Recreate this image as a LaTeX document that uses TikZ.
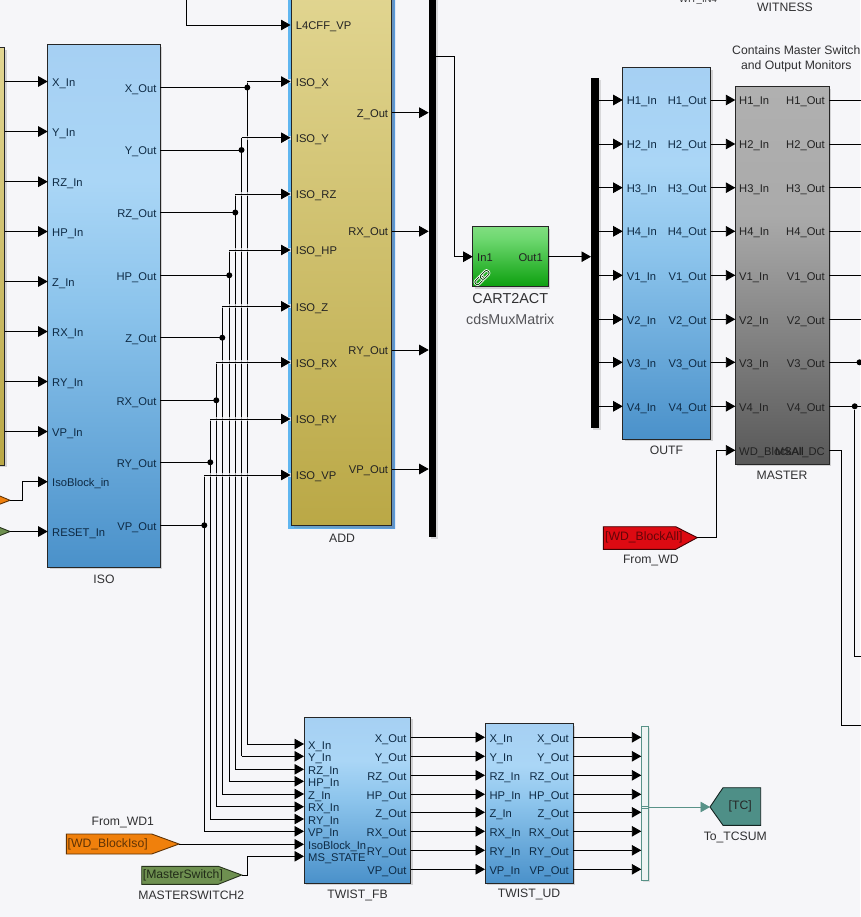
\documentclass[tikz,border=0pt]{standalone}
\usepackage{fontspec}
\setmainfont{Liberation Sans}
\usetikzlibrary{arrows.meta,shadows}

\definecolor{sim_bg}{RGB}{246,246,249}
\definecolor{sim_navy}{RGB}{14,42,68}
\definecolor{sim_text}{RGB}{34,34,34}
\definecolor{sim_name}{RGB}{48,48,50}
\definecolor{sim_grau}{RGB}{84,84,88}
\definecolor{sim_teal}{RGB}{88,146,136}
\definecolor{sim_tag}{RGB}{78,143,135}
\definecolor{sim_orange}{RGB}{240,128,12}
\definecolor{sim_rot}{RGB}{221,10,18}
\definecolor{sim_gruen}{RGB}{110,144,80}
\definecolor{sim_sel}{RGB}{96,182,240}
\definecolor{sim_sel2}{RGB}{88,154,220}

\pgfdeclareverticalshading{simblue}{100bp}{
  color(0bp)=(rgb,255:red,74;green,145;blue,202);
  color(25bp)=(rgb,255:red,74;green,145;blue,202);
  color(50bp)=(rgb,255:red,140;green,196;blue,236);
  color(62bp)=(rgb,255:red,170;green,214;blue,246);
  color(75bp)=(rgb,255:red,166;green,208;blue,243);
  color(100bp)=(rgb,255:red,166;green,208;blue,243)}
\pgfdeclareverticalshading{simyellow}{100bp}{
  color(0bp)=(rgb,255:red,186;green,168;blue,70);
  color(25bp)=(rgb,255:red,186;green,168;blue,70);
  color(75bp)=(rgb,255:red,226;green,214;blue,146);
  color(100bp)=(rgb,255:red,226;green,214;blue,146)}
\pgfdeclareverticalshading{simgrey}{100bp}{
  color(0bp)=(rgb,255:red,88;green,88;blue,88);
  color(25bp)=(rgb,255:red,88;green,88;blue,88);
  color(58bp)=(rgb,255:red,170;green,170;blue,170);
  color(75bp)=(rgb,255:red,176;green,176;blue,176);
  color(100bp)=(rgb,255:red,176;green,176;blue,176)}
\pgfdeclareverticalshading{simgreen}{100bp}{
  color(0bp)=(rgb,255:red,12;green,160;blue,14);
  color(25bp)=(rgb,255:red,12;green,160;blue,14);
  color(65bp)=(rgb,255:red,110;green,216;blue,112);
  color(75bp)=(rgb,255:red,128;green,222;blue,128);
  color(100bp)=(rgb,255:red,128;green,222;blue,128)}

\begin{document}
\begin{tikzpicture}[
      x=1pt,
      y=-1pt,
      block/.style={
        draw=black!85,
        line width=1pt,
        anchor=north west,
        inner sep=0pt,
        outer sep=0pt,
        drop shadow={shadow xshift=2pt,shadow yshift=-2pt,opacity=0.3}
      },
      bluebox/.style={block,shading=simblue},
      yellowbox/.style={block,shading=simyellow},
      greybox/.style={block,shading=simgrey},
      greenbox/.style={block,shading=simgreen},
      bus/.style={
        fill=black,
        anchor=north west,
        inner sep=0pt,
        drop shadow={shadow xshift=2pt,shadow yshift=-2pt,opacity=0.25}
      },
      wire/.style={
        line width=0.9pt,
        -{Triangle[length=9.5pt,width=10.5pt]}
      },
      plain/.style={line width=0.9pt},
      hop/.style={draw=sim_bg,opacity=0.7,line width=4pt},
      dot/.style={
        circle,
        fill=black,
        inner sep=0pt,
        minimum size=6pt
      },
      portin/.style={
        anchor=base west,
        inner sep=0pt,
        text=sim_text,
        font=\fontsize{11.2}{13}\selectfont
      },
      portout/.style={
        portin,
        anchor=base east
      },
      bluetxt/.style={text=sim_navy},
      blockname/.style={
        inner sep=0pt,
        text=sim_name,
        font=\fontsize{12.2}{14}\selectfont
      },
      tagtxt/.style={
        anchor=west,
        inner sep=0pt,
        font=\fontsize{12.2}{14}\selectfont
      },
      chain/.style={
        draw=green!25!black,
        line width=0.8pt,
        rounded corners=2pt,
        minimum width=10pt,
        minimum height=5pt,
        inner sep=0pt,
        rotate=45,
        preaction={draw=white,line width=2.4pt}
      }
    ]

      \useasboundingbox (0,0) rectangle (860,917);
      \fill [sim_bg] (0,0) rectangle (860,917);

      % Bloecke
      \node [yellowbox,minimum width=60pt,minimum height=417pt] (left) at (-55.5,48) {};
      \node [bluebox,minimum width=112.6pt,minimum height=522.3pt] (iso) at (47.7,45) {};
      \node [anchor=north west,inner sep=0pt,minimum width=107pt,minimum height=548.5pt,
        left color=sim_sel,right color=sim_sel2] (addsel) at (288,-20) {};
      \node [yellowbox,minimum width=100pt,minimum height=545.7pt,drop shadow={opacity=0}] (add) at (291.7,-20) {};
      \node [bus,minimum width=7.4pt,minimum height=557pt] (bus1) at (428.7,-20) {};
      \node [greenbox,minimum width=75.6pt,minimum height=60pt] (cart) at (472.7,226.7) {};
      \node [bus,minimum width=7.7pt,minimum height=349.7pt] (bus2) at (591,78.3) {};
      \node [bluebox,minimum width=88pt,minimum height=371.3pt] (outf) at (622.7,67.7) {};
      \node [greybox,minimum width=94pt,minimum height=377.6pt] (master) at (735.3,86.7) {};
      \node [bluebox,minimum width=106.7pt,minimum height=165.7pt] (tfb) at (304,717.3) {};
      \node [bluebox,minimum width=88.3pt,minimum height=159.3pt] (tud) at (485,723.7) {};
      \node [anchor=north west,inner sep=0pt,draw=sim_teal,line width=0.9pt,fill=white!90!sim_teal,
        minimum width=6.7pt,minimum height=154pt,
        drop shadow={shadow xshift=1.5pt,shadow yshift=-1.5pt,opacity=0.2}] (mux) at (641.3,726.3) {};

      % Namen
      \node [blockname] (iso-name) at (104,579.3) {ISO};
      \node [blockname] (add-name) at (342,538) {ADD};
      \node [blockname,font=\fontsize{14.4}{16}\selectfont] (cart-name) at (510.3,299) {CART2ACT};
      \node [blockname,text=sim_grau,font=\fontsize{14.3}{16}\selectfont] (cart-lib) at (510.3,319.5) {cdsMuxMatrix};
      \node [blockname] (outf-name) at (666.5,450.7) {OUTF};
      \node [blockname] (master-name) at (782,475.7) {MASTER};
      \node [blockname] (witness) at (785,7.7) {WITNESS};
      \node [blockname,font=\fontsize{9.6}{11}\selectfont] (wit-in) at (698,0) {WIT\_IN4};
      \node [blockname,anchor=base] (note-a) at (796.3,54.3) {Contains Master Switch};
      \node [blockname,anchor=base] (note-b) at (796.3,70) {and Output Monitors};
      \node [blockname] (tfb-name) at (357.5,895) {TWIST\_FB};
      \node [blockname] (tud-name) at (529,894.7) {TWIST\_UD};
      \node [blockname] (from-wd) at (650.8,560.7) {From\_WD};
      \node [blockname] (from-wd1) at (122.8,822.7) {From\_WD1};
      \node [blockname] (ms-name) at (191.3,895.7) {MASTERSWITCH2};
      \node [blockname] (tc-name) at (735.3,837.7) {To\_TCSUM};

      % ISO Eingaenge
      \foreach \t/\y in {X/81.5,Y/131.5,RZ/181.7,HP/231.5,Z/281.5,RX/331.5,RY/381.5,VP/431.5}
      {
        \coordinate (left-\t) at (4.5,\y);
        \coordinate (iso-\t-in) at (47.7,\y);
        \node [portin,bluetxt] (iso-\t-txt) at (52,\y+4.7) {\t\_In};
        \draw [wire] (left-\t) -- (iso-\t-in);
      }
      \coordinate (iso-block-in) at (47.7,481.7);
      \coordinate (iso-reset-in) at (47.7,531.5);
      \node [portin,bluetxt] (iso-block-txt) at (52,486.4) {IsoBlock\_in};
      \node [portin,bluetxt] (iso-reset-txt) at (52,536.2) {RESET\_In};

      % Marken links
      \path [fill=sim_orange,draw=black!60!sim_orange,line width=0.9pt] (-5,494) -- (10,500.3) -- (-5,506) -- cycle;
      \path [fill=sim_gruen,draw=black!65!sim_gruen,line width=0.9pt] (-5,525.5) -- (10,531.5) -- (-5,537.5) -- cycle;
      \coordinate (orange-tip) at (10,500.3);
      \coordinate (green-tip) at (10,531.5);
      \coordinate (orange-up) at (22.3,481.7);
      \draw [wire] (orange-tip) -| (orange-up) -- (iso-block-in);
      \draw [wire] (green-tip) -- (iso-reset-in);

      % Leitungen ISO nach ADD und TWIST_FB
      \foreach \t/\xj/\yo/\ya/\yf in {X/247.3/87.5/81.5/744,Y/241.5/150/137.7/756.3,RZ/235.3/212.5/194/769.3,HP/229.3/275.3/250/781.3,Z/222.3/337.7/306.3/794,RX/216.3/400.3/362.3/806.7,RY/210.3/462.3/419/819,VP/204.3/525.3/475/831.3}
      {
        \coordinate (iso-\t-out) at (160.3,\yo);
        \coordinate (up-\t) at (\xj,\ya);
        \coordinate (down-\t) at (\xj,\yf);
        \coordinate (add-\t-in) at (290.5,\ya);
        \coordinate (tfb-\t-in) at (304,\yf);
        \draw [plain] (up-\t) -- (down-\t);
      }
      \foreach \t/\yo/\ya/\l in {X/87.5/81.5/ISO\_X,Y/150/137.7/ISO\_Y,RZ/212.5/194/ISO\_RZ,HP/275.3/250/ISO\_HP,Z/337.7/306.3/ISO\_Z,RX/400.3/362.3/ISO\_RX,RY/462.3/419/ISO\_RY,VP/525.3/475/ISO\_VP}
      {
        \draw [hop] (up-\t) -- (add-\t-in);
        \draw [wire] (up-\t) -- (add-\t-in);
        \draw [wire] (down-\t) -- (tfb-\t-in);
        \draw [plain] (iso-\t-out) -- (up-\t |- iso-\t-out) node [dot] (dot-\t) {};
        \node [portout,bluetxt] (iso-\t-txt2) at (156.7,\yo+4.8) {\t\_Out};
        \node [portin] (add-\t-txt) at (295.7,\ya+4.7) {\l};
      }

      % ADD
      \coordinate (l4-top) at (186.3,-5);
      \coordinate (add-l4-in) at (290.5,25);
      \draw [wire] (l4-top) |- (add-l4-in);
      \node [portin] (add-l4-txt) at (295.7,29.7) {L4CFF\_VP};
      \foreach \t/\y in {Z/112.7,RX/231.3,RY/350,VP/469}
      {
        \coordinate (add-\t-out) at (391.7,\y);
        \coordinate (bus1-\t) at (428.7,\y);
        \node [portout] (add-\t-txt2) at (388.3,\y+4.7) {\t\_Out};
        \draw [wire] (add-\t-out) -- (bus1-\t);
      }

      % CART2ACT
      \coordinate (bus1-out) at (436,56.7);
      \coordinate (bus1-bend) at (454.7,56.7);
      \coordinate (cart-in) at (472.7,256.7);
      \coordinate (cart-out) at (548.3,256.7);
      \coordinate (bus2-in) at (591,256.7);
      \draw [wire] (bus1-out) -- (bus1-bend) |- (cart-in);
      \draw [wire] (cart-out) -- (bus2-in);
      \node [portin] (cart-in-txt) at (477,261.4) {In1};
      \node [portout] (cart-out-txt) at (543,261.4) {Out1};
      \node [chain] (link-a) at (479.3,280.3) {};
      \node [chain] (link-b) at (484.7,274.9) {};

      % OUTF und MASTER
      \foreach \t/\y in {H1/100,H2/144,H3/187.7,H4/231.3,V1/275.3,V2/319.3,V3/362.3,V4/406.3}
      {
        \coordinate (bus2-\t) at (598.7,\y);
        \coordinate (outf-\t-in) at (622.7,\y);
        \coordinate (outf-\t-out) at (710.7,\y);
        \coordinate (master-\t-in) at (735.3,\y);
        \coordinate (master-\t-out) at (829.3,\y);
        \coordinate (right-\t) at (870,\y);
        \draw [wire] (bus2-\t) -- (outf-\t-in);
        \draw [wire] (outf-\t-out) -- (master-\t-in);
        \draw [plain] (master-\t-out) -- (right-\t);
        \node [portin,bluetxt] (outf-\t-txt) at (626.7,\y+4.7) {\t\_In};
        \node [portout,bluetxt] (outf-\t-txt2) at (706.7,\y+4.7) {\t\_Out};
        \node [portin] (master-\t-txt) at (739,\y+4.7) {\t\_In};
        \node [portout] (master-\t-txt2) at (825,\y+4.7) {\t\_Out};
      }
      \node [dot] (dot-v3) at (859.5,362.3) {};
      \node [dot] (dot-v4) at (854.7,406.3) {};
      \coordinate (v4-low) at (870,656);
      \draw [plain] (dot-v4) |- (v4-low);
      \coordinate (master-wd-in) at (735.3,450.3);
      \coordinate (master-ms-out) at (829.3,450.3);
      \coordinate (ms-bend) at (841.7,450.3);
      \coordinate (ms-low) at (870,725.3);
      \draw [plain] (master-ms-out) -- (ms-bend) |- (ms-low);
      \node [portin] (master-wd-txt) at (739,455) {WD\_BlockAll};
      \node [portout] (master-ms-txt) at (825,455) {MSAI\_DC};

      % From_WD
      \path [fill=sim_rot,draw=black!70!sim_rot,line width=0.9pt] (603.3,526.7) -- (675.7,526.7) -- (697.3,537.6) -- (675.7,549.3) -- (603.3,549.3) -- cycle;
      \node [tagtxt,text=black!55!sim_rot] (wd-all) at (605,537.6) {[WD\_BlockAll]};
      \coordinate (wd-tip) at (697.3,537.6);
      \coordinate (wd-bend) at (716.7,537.6);
      \draw [wire] (wd-tip) -- (wd-bend) |- (master-wd-in);

      % TWIST_FB
      \foreach \t/\y in {X/744,Y/756.3,RZ/769.3,HP/781.3,Z/794,RX/806.7,RY/819,VP/831.3}
      {
        \node [portin,bluetxt] (tfb-\t-txt) at (308,\y+5) {\t\_In};
      }
      \path [fill=sim_orange,draw=black!60!sim_orange,line width=0.9pt] (66.3,834) -- (151.7,834) -- (179,844) -- (151.7,854) -- (66.3,854) -- cycle;
      \node [tagtxt,text=black!60!sim_orange] (wd-iso) at (67.5,844) {[WD\_BlockIso]};
      \path [fill=sim_gruen,draw=black!65!sim_gruen,line width=0.9pt] (141.7,866.3) -- (218.3,866.3) -- (241.7,875) -- (218.3,884.3) -- (141.7,884.3) -- cycle;
      \node [tagtxt,text=black!70!sim_gruen] (ms-switch) at (142.7,875) {[MasterSwitch]};
      \coordinate (iso-tip) at (179,844.3);
      \coordinate (tfb-block-in) at (304,844.3);
      \coordinate (ms-tip) at (241.7,875);
      \coordinate (ms-up) at (247.3,856.3);
      \coordinate (tfb-ms-in) at (304,856.3);
      \draw [wire] (iso-tip) -- (tfb-block-in);
      \draw [wire] (ms-tip) -| (ms-up) -- (tfb-ms-in);
      \node [portin,bluetxt] (tfb-block-txt) at (308,849) {IsoBlock\_In};
      \node [portin,bluetxt] (tfb-ms-txt) at (308,861) {MS\_STATE};

      % TWIST_UD
      \foreach \t/\y in {X/737.3,Y/756.3,RZ/775.3,HP/794.3,Z/812.3,RX/831.3,RY/850.3,VP/869.3}
      {
        \coordinate (tfb-\t-out) at (410.7,\y);
        \coordinate (tud-\t-in) at (485,\y);
        \coordinate (tud-\t-out) at (573.3,\y);
        \coordinate (mux-\t) at (641.3,\y);
        \draw [wire] (tfb-\t-out) -- (tud-\t-in);
        \draw [wire] (tud-\t-out) -- (mux-\t);
        \node [portout,bluetxt] (tfb-\t-txt2) at (406.7,\y+5.2) {\t\_Out};
        \node [portin,bluetxt] (tud-\t-txt) at (489.3,\y+5.2) {\t\_In};
        \node [portout,bluetxt] (tud-\t-txt2) at (569,\y+5.2) {\t\_Out};
      }

      % To_TCSUM
      \path [fill=sim_tag,draw=black!75!sim_tag,line width=0.9pt] (710,807) -- (723,787.7) -- (760.7,787.7) -- (760.7,825.3) -- (723,825.3) -- cycle;
      \node [tagtxt,text=black!85] (tc) at (728.5,806) {[TC]};
      \coordinate (mux-out) at (648,807);
      \coordinate (tc-tip) at (710,807);
      \coordinate (mux-a) at (641.8,806);
      \coordinate (mux-b) at (648,806);
      \coordinate (mux-c) at (641.8,808.2);
      \coordinate (mux-d) at (648,808.2);
      \draw [sim_teal,line width=0.6pt] (mux-a) -- (mux-b);
      \draw [sim_teal,line width=0.6pt] (mux-c) -- (mux-d);
      \draw [sim_teal,line width=0.8pt,-{Triangle[length=9.5pt,width=10.5pt]}] (mux-out) -- (tc-tip);
    \end{tikzpicture}
\end{document}
